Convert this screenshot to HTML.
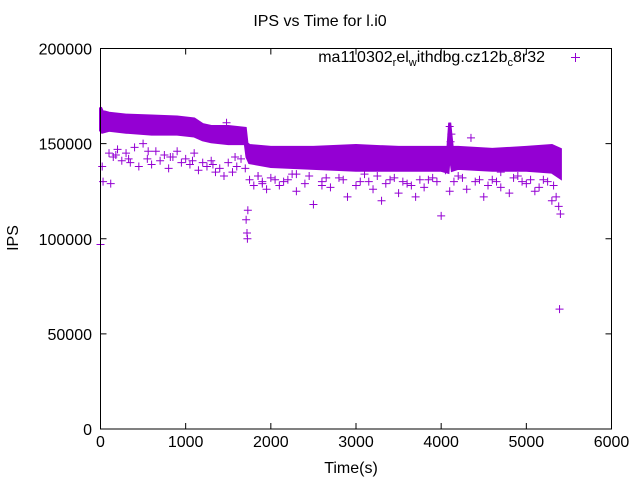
<!DOCTYPE html>
<html><head><meta charset="utf-8"><style>
body{margin:0;background:#fff;}
svg{display:block;font-family:"Liberation Sans",sans-serif;}
</style></head><body>
<svg id="chart" width="640" height="480">
<text x="320" y="26" text-anchor="middle" font-size="16">IPS vs Time for l.i0</text>
<text x="351" y="473" text-anchor="middle" font-size="16">Time(s)</text>
<text transform="translate(18,238) rotate(-90)" text-anchor="middle" font-size="16">IPS</text>
<g id="ticks"></g>
<g id="marks"></g>
<rect x="100.5" y="48.5" width="511" height="380.5" fill="none" stroke="#000" stroke-width="1"/>
<text x="545" y="62" text-anchor="end" font-size="16">ma110302<tspan font-size="11" dy="4">r</tspan><tspan dy="-4">el</tspan><tspan font-size="11" dy="4">w</tspan><tspan dy="-4">ithdbg.cz12b</tspan><tspan font-size="11" dy="4">c</tspan><tspan dy="-4">8r32</tspan></text>
<path d="M571 57.5h9M575.5 53v9" stroke="#9400d3" stroke-width="1"/>
</svg>
<script>
const xTicks = [0, 1000, 2000, 3000, 4000, 5000, 6000];
const yTicks = [0, 50000, 100000, 150000, 200000];
const bandTime = [0, 20, 100, 300, 600, 900, 1100, 1200, 1300, 1500, 1700, 1720, 1750, 2000, 2500, 3000, 3500, 4000, 4080, 4100, 4130, 4200, 4600, 5000, 5300, 5400];
const bandHigh = [169, 167, 166, 165, 164.5, 164, 163, 160, 159, 159, 158, 150, 149, 148, 148, 149, 148, 148, 148, 161, 148, 148, 147, 148, 149, 147];
const bandLow = [157, 156, 157, 156, 155, 155, 154, 152, 151, 150, 150, 143, 140, 138, 137, 136, 136, 136, 135, 146, 136, 137, 136, 136, 135, 132];
const ptTime = [20, 30, 100, 120, 150, 200, 250, 300, 350, 400, 450, 500, 550, 600, 650, 700, 750, 800, 850, 900, 950, 1000, 1050, 1100, 1150, 1200, 1250, 1300, 1350, 1400, 1450, 1500, 1550, 1600, 1650, 1700, 1710, 1720, 1725, 1730, 1750, 1800, 1850, 1900, 1950, 2000, 2100, 2200, 2300, 2400, 2500, 2600, 2700, 2800, 2900, 3000, 3100, 3200, 3300, 3400, 3500, 3600, 3700, 3800, 3900, 4000, 4100, 4200, 4300, 4400, 4500, 4600, 4700, 4800, 4900, 5000, 5100, 5200, 5300, 5350, 5380, 5400, 5390, 0, 2300, 3650, 4050, 4700, 4100, 4120, 4110, 1480, 4350, 180, 330, 560, 820, 1080, 1320, 1580, 1850, 2050, 2250, 2450, 2650, 2850, 3050, 3250, 3450, 3550, 3750, 3950, 4250, 4450, 4650, 4850, 5050, 5250, 5320, 1900, 2150, 2600, 3150, 3350, 3850, 4150, 4550, 4950, 5150];
const ptIPS = [138, 130, 145, 129, 143, 147, 141, 145, 140, 148, 138, 150, 142, 139, 146, 141, 144, 137, 143, 146, 140, 142, 139, 145, 136, 140, 138, 141, 135, 137, 133, 140, 135, 138, 142, 137, 110, 103, 100, 115, 131, 128, 133, 130, 126, 132, 128, 131, 125, 129, 118, 130, 127, 132, 122, 128, 134, 126, 120, 131, 124, 129, 122, 127, 132, 112, 125, 133, 126, 130, 122, 131, 127, 124, 133, 129, 125, 131, 120, 122, 117, 113, 63, 97, 134, 128, 136, 135, 159, 155, 151, 161, 153, 144, 142, 146, 143, 141, 139, 143, 133, 131, 134, 133, 132, 131, 130, 133, 132, 130, 131, 130, 132, 131, 130, 132, 131, 130, 128, 129, 130, 128, 130, 129, 131, 130, 128, 130, 127];
function X(t) { return 100.5 + t * 511 / 6000; }
function Y(v) { return 429 - v * 380.5 / 200000; }
var NS = 'http://www.w3.org/2000/svg';
var tk = document.getElementById('ticks');
var mk = document.getElementById('marks');
function el(n, a, p) { var e = document.createElementNS(NS, n); for (var k in a) { e.setAttribute(k, a[k]); } p.appendChild(e); return e; }
xTicks.forEach(function (t) {
  var l = el('path', {d: 'M' + X(t) + ' 429v-6M' + X(t) + ' 48.5v6', stroke: '#000'}, tk);
  
  
  var s = el('text', {x: X(t), y: 447, 'text-anchor': 'middle', 'font-size': 16}, tk);
  s.textContent = t;
  
  
});
yTicks.forEach(function (v) {
  var l = el('path', {d: 'M100.5 ' + Y(v) + 'h6M611.5 ' + Y(v) + 'h-6', stroke: '#000'}, tk);
  
  
  var s = el('text', {x: 92, y: Y(v) + 6, 'text-anchor': 'end', 'font-size': 16}, tk);
  s.textContent = v;
  
  
});
var d = 'M' + bandTime.map(function (t, i) { return X(t) + ' ' + Y(bandHigh[i] * 1000); }).join('L');
for (var i = bandTime.length - 1; i >= 0; i--) { d += 'L' + X(bandTime[i]) + ' ' + Y(bandLow[i] * 1000); }
var band = el('path', {d: d + 'Z', fill: '#9400d3', stroke: '#9400d3', 'stroke-width': 3}, mk);


var n = Math.min(ptTime.length, ptIPS.length);
for (var j = 0; j < n; j++) {
  var x = X(ptTime[j]), y = Y(ptIPS[j] * 1000);
  var p = el('path', {d: 'M' + (x - 4) + ' ' + y + 'h8M' + x + ' ' + (y - 4) + 'v8', stroke: '#9400d3', 'stroke-width': 1}, mk);
  
  
}
</script>
</body></html>
